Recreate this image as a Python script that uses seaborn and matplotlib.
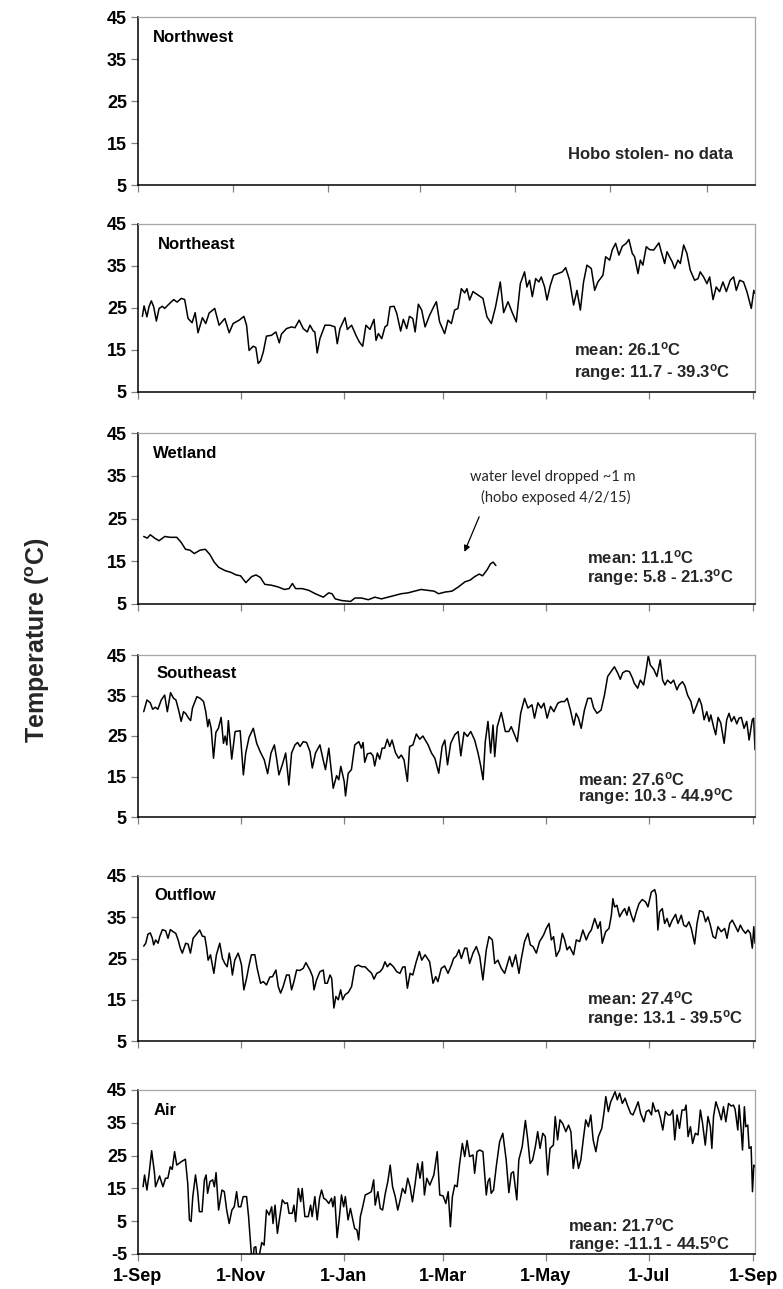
import matplotlib
matplotlib.use("Agg")
import matplotlib.pyplot as plt
import seaborn as sns
import pandas as pd

# ---------------- data ----------------
START = "2014-09-01"
tick_dates = ["2014-09-01", "2014-11-01", "2015-01-01", "2015-03-01",
              "2015-05-01", "2015-07-01", "2015-09-01"]
tick_labels = ["1-Sep", "1-Nov", "1-Jan", "1-Mar", "1-May", "1-Jul", "1-Sep"]
y_ticks_water = [5, 15, 25, 35, 45]
y_ticks_air = [-5, 5, 15, 25, 35, 45]

panel_names = ["Northwest", "Northeast", "Wetland", "Southeast", "Outflow", "Air"]
panel_means = [None, "26.1", "11.1", "27.6", "27.4", "21.7"]
panel_ranges = [None, "11.7 - 39.3", "5.8 - 21.3", "10.3 - 44.9", "13.1 - 39.5", "-11.1 - 44.5"]

ne_day = [2.6, 3.6, 5.3, 6.5, 7.9, 9.3, 10.9, 12.5, 14.5, 15.8, 18.8, 21.2, 23.2, 25.7, 27.7, 29.7,
          32.1, 33.9, 35.6, 38.2, 40.2, 42.2, 45.5, 48.1, 51.5, 54.1, 56.4, 60.0, 62.8, 64.4, 65.9,
          68.3, 69.9, 71.3, 72.7, 74.3, 76.2, 79.2, 81.8, 83.8, 85.1, 88.1, 91.1, 93.1, 95.6, 98.0,
          100.4, 102.0, 104.0, 104.9, 106.3, 107.9, 110.9, 113.9, 116.8, 118.2, 119.8, 122.8, 124.2,
          126.7, 129.3, 131.3, 133.3, 135.2, 137.6, 140.0, 141.2, 142.6, 144.6, 146.5, 147.9, 149.5,
          151.9, 153.5, 155.8, 157.4, 159.4, 161.0, 163.0, 164.4, 166.3, 168.3, 170.3,
          173.0, 175.4, 177.0, 178.9, 181.9, 183.9, 185.9, 187.8, 189.8, 191.8, 193.8, 195.1, 196.7,
          198.7, 201.7, 204.6, 207.0, 209.6, 212.1, 214.9, 216.9, 219.5, 222.0, 224.4, 226.8, 229.3,
          230.7, 232.3, 233.9, 235.9, 237.8, 239.2, 241.2, 242.6, 244.6, 246.5, 249.1, 251.7, 253.7,
          256.0, 258.4, 260.4, 262.4, 264.3, 266.3, 268.9, 270.9, 272.8, 275.8, 277.4, 279.8, 281.3,
          283.3, 285.3, 287.3, 289.6, 291.2, 293.2, 294.6, 296.6, 298.0, 299.5, 301.5, 303.5, 305.9,
          309.0, 310.4, 312.4, 313.8, 315.3, 316.9, 318.3, 320.3, 321.7, 323.7, 325.6, 327.6, 330.2,
          332.2, 333.5, 335.5, 337.5, 339.1, 341.1, 343.0, 345.0, 347.0, 349.0, 351.3, 353.3, 354.9,
          356.9, 359.2, 361.2, 363.8, 365.3, 366.0]
ne_temp = [23.0, 25.5, 22.9, 25.3, 26.7, 25.3, 21.9, 24.9, 25.4, 24.9, 26.1, 27.0, 26.4, 27.3, 27.0, 22.5,
           21.5, 23.9, 19.1, 22.7, 21.3, 23.8, 24.9, 20.9, 22.5, 19.1, 21.3, 22.1, 23.0, 20.9, 14.9,
           15.9, 15.6, 11.8, 12.4, 14.5, 18.3, 18.5, 19.3, 16.7, 18.8, 20.1, 20.5, 20.3, 22.1, 20.1,
           19.3, 20.9, 19.5, 19.3, 14.3, 17.7, 20.9, 20.9, 20.5, 16.5, 20.1, 22.7, 19.9,
           20.9, 18.5, 16.9, 15.9, 20.9, 19.9, 22.3, 17.3, 18.9, 17.7, 20.5, 20.9, 25.3,
           25.4, 23.7, 19.5, 22.3, 20.1, 23.0, 22.5, 19.3, 25.9, 24.5, 20.5,
           23.3, 25.3, 26.5, 21.7, 18.9, 22.1, 21.3, 24.5, 24.9, 29.6, 28.6, 29.6, 26.9,
           28.9, 28.1, 27.3, 22.9, 21.3, 25.3, 31.2, 23.9, 26.5, 23.9, 21.7, 30.8, 33.6,
           30.0, 31.6, 27.7, 32.0, 31.2, 32.4, 30.0, 26.9, 30.4, 32.8, 33.2, 33.6, 34.6,
           31.6, 25.7, 29.2, 24.5, 31.2, 35.2, 34.4, 29.2, 31.2, 32.8, 37.2, 36.4, 38.8,
           40.4, 37.6, 39.7, 40.4, 41.3, 38.0, 37.2, 33.2, 36.4, 35.2, 39.6, 38.9, 38.8,
           40.5, 38.4, 35.6, 38.4, 37.2, 36.0, 34.4, 36.4, 35.6, 40.0, 38.0, 34.0, 31.6,
           32.0, 33.6, 32.4, 30.8, 32.4, 27.0, 30.0, 28.9, 31.2, 28.9, 31.6, 32.4, 29.2,
           31.6, 31.2, 28.9, 24.9, 29.2, 28.5]

wl_day = [3.4, 5.5, 7.3, 9.9, 12.5, 15.9, 19.1, 23.0, 25.6, 28.2, 30.8, 33.4, 36.8, 39.9, 42.6, 45.2,
          47.8, 51.7, 55.1, 58.2, 60.8, 64.0, 67.4, 70.0, 72.6, 75.2, 79.1, 83.0, 86.9, 89.6, 91.6,
          93.5, 97.4, 101.3, 105.2, 109.9, 113.1, 115.1, 117.0, 120.9, 126.1, 128.7, 132.6, 136.6,
          140.5, 144.4, 148.3, 152.2, 156.1, 160.1, 164.0, 167.9, 171.8, 175.7, 178.3, 182.2, 186.2,
          190.1, 194.0, 197.1, 199.7, 202.4, 204.4, 207.1, 209.1, 210.7, 212.3]
wl_temp = [20.8, 20.4, 21.2, 20.4, 19.8, 20.8, 20.6, 20.6, 19.4, 17.8, 17.6, 16.8, 17.6, 17.8, 16.6, 14.8,
           13.6, 12.8, 12.4, 11.8, 11.6, 10.0, 11.4, 11.8, 11.2, 9.6, 9.4, 9.0, 8.4, 8.6, 9.8,
           8.6, 8.6, 8.2, 7.4, 6.6, 7.6, 7.4, 6.2, 5.8, 5.6, 6.4, 6.4, 6.0,
           6.6, 6.2, 6.6, 7.0, 7.4, 7.6, 8.0, 8.4, 8.2, 8.0, 7.4, 7.8, 8.0,
           9.0, 10.2, 10.6, 11.4, 12.0, 11.6, 13.0, 14.4, 14.8, 14.0]

se_day = [3.4, 5.3, 7.3, 8.7, 10.3, 11.8, 13.8, 15.8, 17.4, 19.3, 21.1, 22.5, 24.1, 25.6, 27.0, 28.4,
          30.0, 31.2, 32.3, 34.9, 36.9, 38.9, 40.2, 41.4, 42.2, 43.4, 44.8, 46.2, 47.7, 49.3, 50.7,
          51.7, 52.7, 53.6, 55.6, 57.6, 60.6, 62.5, 63.9, 65.9, 68.4, 70.4, 72.4, 74.9, 76.9, 78.9,
          80.9, 82.2, 83.6, 85.6, 87.6, 89.5, 91.1, 93.1, 94.7, 96.1, 98.0, 100.0, 102.0, 103.4,
          105.3, 107.9, 109.9, 111.2, 113.2, 115.8, 117.8, 119.1, 120.3, 122.3, 123.1, 124.7, 126.6,
          128.6, 131.0, 132.5, 133.5, 134.5, 136.1, 138.1, 139.4, 140.4, 142.0, 143.4, 144.8, 146.3,
          147.9, 149.3, 150.7, 152.7, 154.6, 156.2, 157.8, 159.8, 161.1, 163.1, 165.1, 167.1, 169.0,
          171.0,
          172.1, 174.1, 176.1, 178.4, 180.4, 182.0, 183.6, 185.5, 187.9, 189.9, 191.5, 193.4, 195.4,
          197.4, 199.7, 201.7, 203.3, 204.7, 206.0, 207.6, 209.2, 210.6, 211.6, 213.1, 215.5, 217.9,
          219.9, 221.4, 223.0, 225.0, 227.0, 229.3, 231.3, 233.7, 235.2, 237.2, 239.2, 240.8, 242.7,
          244.7, 246.7, 249.0, 251.0, 253.0, 254.6, 256.5, 258.5, 259.9, 261.3, 262.9, 264.8, 266.8,
          268.8, 270.3, 272.3, 274.7, 276.7, 278.6, 280.6, 282.6, 284.6, 286.1, 287.5, 289.5, 291.5,
          293.4, 294.4, 296.4, 298.0, 299.9, 301.3, 302.7, 303.9, 305.9, 307.8, 309.8, 311.2, 312.6,
          314.1, 316.1, 317.7, 319.7, 321.0, 323.0, 324.4, 326.0, 328.0, 329.5, 331.5, 332.9, 334.3,
          335.8, 337.4, 338.8, 339.8, 341.4, 342.7, 344.1, 345.7, 347.7, 349.2, 350.6, 352.0, 353.6,
          355.2, 356.5, 357.9, 359.5, 361.1, 362.5, 364.4, 365.2, 366.0]
se_temp = [31.0, 33.9, 33.2, 31.6, 32.1, 31.6, 33.9, 35.1, 31.0, 35.7, 34.3, 33.9, 31.4, 28.6, 31.0, 30.5,
           29.4, 28.8, 31.9, 34.7, 34.3, 33.5, 31.0, 27.3, 29.1, 26.9, 19.5, 25.9, 26.9, 29.6, 23.2,
           25.0, 22.8, 28.8, 19.3, 26.1, 26.3, 15.4, 20.8, 24.7, 26.9, 23.2, 21.2, 19.1, 15.7, 20.8,
           22.8, 19.5, 15.4, 17.9, 20.8, 12.9, 20.8, 22.8, 23.4, 22.4, 23.6, 23.4, 21.2, 17.1,
           20.8, 22.8, 19.0, 16.7, 22.0, 12.1, 15.2, 14.2, 17.5, 13.8, 10.2, 15.8, 16.7,
           22.8, 23.6, 22.0, 23.4, 18.5, 20.6, 20.8, 20.1, 17.6, 20.8, 19.3, 22.0, 22.0,
           24.2, 22.4, 24.0, 20.9, 19.5, 20.3, 19.1, 13.8, 22.4, 22.8, 25.5, 24.2, 25.0,
           23.6,
           22.8, 20.8, 19.5, 15.8, 22.4, 24.0, 17.9, 23.2, 25.3, 26.1, 20.1, 25.9, 24.9,
           26.1, 24.0, 20.8, 17.6, 14.2, 23.6, 28.6, 20.8, 27.7, 19.9, 27.3, 30.8, 26.1,
           26.1, 27.3, 25.7, 23.6, 30.6, 34.3, 31.9, 32.7, 29.4, 33.2, 31.9, 33.1, 29.4,
           32.3, 31.0, 33.1, 33.5, 33.5, 34.3, 31.4, 27.7, 30.6, 29.4, 26.9, 31.4, 34.3,
           34.3, 31.9, 30.6, 31.4, 35.1, 39.7, 40.9, 42.1, 40.5, 39.0, 40.6, 41.1, 40.9,
           39.2, 38.0, 36.8, 38.8, 37.6, 40.9, 44.9, 42.5, 41.5, 39.7, 43.8, 38.8, 37.6,
           38.8, 38.0, 38.8, 36.4, 37.6, 38.4, 37.4, 35.1, 33.5, 30.6, 32.7, 34.3, 32.7,
           29.0, 31.0, 28.6, 30.2, 27.3, 25.3, 29.6, 28.2, 23.2, 29.0, 30.6, 28.6, 29.8,
           28.0, 29.4, 29.6, 26.9, 28.6, 24.0, 29.0, 29.4, 21.6]

of_day = [3.4, 4.6, 5.9, 7.3, 8.5, 9.3, 10.5, 11.9, 12.9, 14.5, 16.4, 17.8, 19.2, 20.8, 22.4, 23.8,
          25.1, 26.3, 28.3, 29.7, 31.1, 32.7, 34.3, 36.6, 38.2, 39.6, 40.6, 41.6, 43.0, 45.0, 46.5,
          48.5, 50.1, 51.5, 52.9, 54.1, 54.9, 56.0, 57.4, 59.4, 60.4, 61.4, 62.8, 64.4, 65.9, 67.3,
          69.3, 70.7, 72.7, 74.3, 76.2, 78.2, 79.8, 81.8, 83.2, 84.6, 86.1, 88.1, 89.7, 91.1, 92.5,
          94.1, 96.0, 98.0, 99.6, 102.0, 103.6, 104.4, 105.9, 107.9, 109.9, 110.9, 112.3, 113.9,
          114.9, 116.2, 117.4, 118.8, 120.2, 121.4, 122.8, 124.8, 126.7, 128.7, 130.7, 132.7, 134.7,
          136.6, 138.6, 140.0, 141.6, 143.6, 145.1, 146.5, 147.9, 149.5, 151.5, 153.5, 155.4, 157.0,
          158.4, 159.8, 161.4, 163.0, 164.9, 166.9, 168.3, 170.3,
          173.0, 175.0, 176.6, 177.9, 179.9, 181.9, 183.9, 185.9, 187.2, 188.8, 190.4, 191.8, 193.8,
          195.1, 196.7, 198.7, 200.7, 202.7, 204.6, 206.6, 208.2, 210.2, 211.6, 213.5, 215.5, 217.5,
          218.9, 220.4, 222.0, 224.0, 226.0, 227.4, 229.3, 231.3, 232.7, 234.3, 236.3, 238.2, 240.6,
          242.2, 243.8, 245.2, 246.5, 248.1, 250.1, 251.7, 253.1, 254.5, 256.0, 258.4, 260.0, 262.0,
          263.9, 265.9, 267.5, 268.9, 270.9, 272.8, 274.2, 275.4, 277.4, 279.4, 280.8, 281.7, 282.7,
          284.1, 285.7, 287.3, 288.7, 290.0, 291.2, 292.6, 294.0, 295.6, 297.2, 299.1, 301.1, 302.5,
          304.5, 306.5, 307.4, 308.4, 309.4, 311.0, 312.4, 313.8, 315.3, 316.9, 318.9, 320.3, 322.3,
          323.7, 325.2, 326.8, 328.2, 330.2, 331.6, 333.1, 335.1, 336.7, 338.1, 339.5, 341.1, 342.6,
          344.0, 346.0, 348.0, 349.4, 351.0, 352.5, 354.5, 355.9, 357.3, 358.8, 360.4, 361.8, 363.2,
          364.4, 365.3, 366.0]
of_temp = [28.0, 28.7, 30.9, 31.2, 29.9, 28.3, 29.5, 28.7, 30.3, 32.0, 31.7, 29.9, 32.0, 31.5, 31.1, 29.5,
           27.5, 26.3, 28.7, 28.5, 26.3, 29.9, 30.7, 31.9, 30.4, 30.3, 27.9, 24.6, 25.9, 21.4, 25.9,
           28.7, 25.0, 23.8, 23.0, 26.3, 24.6, 21.0, 24.6, 26.3, 25.0, 23.4, 17.4, 20.2, 23.4, 25.9,
           25.9, 22.6, 19.0, 19.4, 18.6, 20.5, 20.6, 22.2, 18.2, 16.6, 18.2, 21.0, 21.0, 17.4, 19.4,
           22.2, 22.1, 22.6, 24.0, 22.2, 20.6, 17.4, 19.8, 21.8, 22.2, 19.0, 19.0, 21.0,
           20.2, 13.0, 15.8, 15.0, 17.4, 15.0, 16.2, 16.8, 18.2, 23.0, 23.4, 23.0, 23.0,
           22.2, 21.4, 20.0, 21.4, 21.8, 22.6, 24.2, 23.0, 23.8, 23.0, 21.8, 21.4, 22.9,
           23.0, 17.8, 21.4, 21.0, 24.0, 26.7, 24.6, 25.9,
           24.2, 19.0, 20.6, 19.4, 22.6, 23.2, 21.4, 23.4, 25.0, 25.6, 27.1, 25.0, 27.5,
           27.5, 23.8, 26.3, 27.9, 25.5, 19.8, 27.1, 30.3, 29.5, 23.8, 24.6, 22.6, 21.4,
           23.4, 25.5, 23.0, 25.9, 21.4, 25.0, 29.1, 31.1, 28.3, 27.9, 26.3, 29.1, 30.7,
           32.3, 33.5, 29.5, 30.3, 25.5, 27.1, 31.1, 29.5, 27.1, 27.9, 25.9, 29.5, 29.1,
           31.9, 29.5, 31.1, 31.9, 34.7, 32.3, 33.9, 28.7, 31.5, 32.3, 35.5, 39.5, 37.5,
           37.9, 35.1, 36.3, 37.1, 35.5, 37.5, 35.5, 33.9, 36.3, 38.3, 39.3, 38.7, 37.5,
           41.1, 41.7, 40.3, 31.9, 36.3, 37.1, 33.5, 34.7, 32.7, 34.3, 35.7, 33.5, 35.5,
           33.1, 32.7, 33.9, 32.3, 28.5, 33.5, 36.6, 36.3, 33.9, 35.1, 33.1, 30.3, 29.9,
           32.7, 31.5, 32.3, 29.9, 33.5, 34.3, 32.7, 31.5, 33.1, 31.9, 31.1, 31.9, 31.1,
           27.5, 32.7, 28.7]

air_day = [3.0, 3.9, 5.3, 6.5, 8.1, 9.8, 10.4, 12.8, 14.8, 16.3, 17.7, 19.1, 20.3, 21.7, 23.0, 25.6,
           28.1, 29.5, 30.5, 31.5, 32.5, 34.1, 35.4, 36.4, 38.0, 39.4, 40.4, 41.3, 42.7, 44.3, 45.3,
           46.3, 47.8, 49.8, 51.2, 52.6, 54.1, 55.7, 57.1, 58.5, 59.6, 61.0, 62.4, 64.4, 65.6, 66.9,
           67.9, 68.9, 69.9, 71.3, 72.2, 73.4, 74.8, 76.2, 77.8, 79.3, 80.1, 81.3, 82.7, 84.1, 85.6,
           87.2, 88.6, 89.6, 91.5, 92.5, 93.5, 95.1, 96.5, 97.4, 99.0, 101.0, 102.4, 103.3, 104.9,
           106.3, 107.7, 108.9, 110.2, 111.6, 113.2, 114.8, 115.6, 116.7, 118.1, 119.5, 120.7, 122.0,
           123.0, 124.6, 126.0, 127.0, 128.5, 129.9, 130.9, 131.9, 133.3, 134.8, 136.8, 138.4, 139.8,
           140.7, 142.3, 143.7, 145.1, 146.7, 148.2, 149.6, 151.0, 152.6, 154.1, 155.5, 156.9, 158.5,
           160.0, 161.4, 162.8, 164.4, 165.9, 167.3, 168.7, 169.9, 171.3,
           173.1, 175.5, 177.5, 179.0, 181.0, 182.6, 184.0, 185.3, 186.5, 187.9, 189.3, 190.8, 192.4,
           193.8, 195.2, 196.7, 198.7, 199.7, 201.1, 202.7, 204.6, 206.6, 207.6, 208.6, 209.5, 210.9,
           212.5, 214.5, 216.4, 218.4, 220.0, 221.4, 222.7, 224.7, 225.9, 227.9, 229.8, 231.2, 232.6,
           234.1, 235.7, 237.1, 238.5, 240.1, 241.6, 243.0, 244.4, 246.4, 247.5, 248.9, 250.3, 251.9,
           253.8, 255.4, 256.8, 258.2, 259.7, 261.3, 262.7, 264.1, 265.6, 267.2, 268.6, 270.0, 271.6,
           273.1, 275.1, 276.5, 277.5, 279.0, 280.4, 281.8, 283.0, 284.3, 285.7, 287.3, 288.9, 290.3,
           292.2, 293.6, 295.2, 296.7, 298.1, 300.1, 301.5, 303.0, 304.6, 305.4, 307.0, 308.6, 309.9,
           311.3, 312.9, 314.5, 315.8, 317.2, 318.4, 319.8, 321.2, 322.7, 324.3, 325.1, 326.3, 327.7,
           329.0, 330.6, 332.2, 333.6, 334.9, 336.5, 338.1, 339.5, 340.4, 341.4, 342.8, 344.4, 346.0,
           347.3, 348.7, 350.3, 351.9, 353.2, 354.2, 355.8, 356.6, 357.8, 358.6, 359.7, 360.5, 361.7,
           362.5, 363.7, 364.5, 365.3, 366.0]
air_temp = [15.5, 19.1, 14.5, 19.1, 26.5, 19.6, 15.5, 18.8, 15.5, 18.1, 18.1, 21.6, 20.8, 26.2, 22.1, 23.1,
            23.9, 16.5, 5.4, 4.9, 12.5, 19.1, 14.0, 7.9, 7.9, 17.6, 19.1, 13.5, 17.1, 17.6, 15.5,
            19.8, 8.4, 14.5, 14.0, 8.4, 4.3, 8.4, 9.4, 14.0, 9.4, 9.4, 12.5, 12.5, 6.4, -2.8,
            -8.5, -3.0, -2.8, -11.1, -4.8, -1.5, -2.3, 8.4, 6.9, 9.4, 4.3, 9.9, 1.3, 6.4, 11.5,
            10.4, 10.6, 7.4, 7.4, 9.9, 4.9, 15.0, 11.0, 15.0, 6.4, 6.4, 9.9, 6.4, 12.5,
            5.4, 12.0, 14.5, 12.0, 11.5, 10.4, 12.0, 9.4, 12.5, 0.0, 6.4, 13.0, 9.4,
            12.5, 5.4, 8.9, 6.4, 2.8, 2.3, -0.7, 6.4, 9.4, 13.0, 13.5, 14.0, 17.6,
            9.9, 14.0, 8.9, 8.4, 13.5, 17.1, 22.1, 15.5, 12.5, 8.4, 11.5, 15.0, 13.5,
            18.1, 15.5, 10.9, 16.5, 22.6, 18.1, 23.1, 13.0, 18.1,
            16.0, 19.1, 26.2, 13.0, 12.7, 10.4, 14.0, 3.3, 12.5, 16.0, 15.5, 22.6, 28.7,
            24.7, 29.6, 24.7, 25.2, 19.6, 26.2, 26.7, 26.2, 13.0, 17.1, 18.1, 13.5, 14.5,
            21.6, 29.2, 31.8, 23.7, 13.7, 19.6, 20.1, 11.5, 23.7, 27.7, 35.7, 29.8, 22.6,
            23.7, 27.7, 32.3, 27.2, 31.8, 30.8, 19.1, 27.2, 28.2, 36.9, 29.8, 35.9, 34.8,
            32.3, 34.3, 32.3, 21.1, 26.7, 21.1, 23.7, 29.8, 35.9, 33.8, 37.4, 29.8, 26.2,
            30.8, 33.3, 38.4, 43.0, 38.4, 41.4, 43.0, 44.5, 42.0, 44.0, 40.9, 42.5, 40.4,
            37.9, 37.4, 39.4, 41.4, 37.9, 35.3, 38.4, 38.9, 37.4, 41.1, 38.4, 38.9, 36.4,
            32.8, 38.4, 37.4, 37.4, 38.9, 29.8, 37.4, 33.3, 38.9, 38.9, 40.4, 30.8, 33.8,
            28.7, 31.8, 31.3, 38.9, 34.8, 28.2, 36.9, 33.8, 27.2, 36.9, 41.4, 38.9, 35.9,
            39.9, 35.3, 40.9, 40.1, 40.4, 39.1, 32.8, 40.4, 32.8, 26.7, 39.9, 33.8, 34.3,
            27.2, 27.7, 14.0, 22.1, 21.6]

series_days = [None, ne_day, wl_day, se_day, of_day, air_day]
series_temps = [None, ne_temp, wl_temp, se_temp, of_temp, air_temp]

# ---------------- style ----------------
sns.set_theme(style="white")
plt.rcParams["font.family"] = ["Liberation Sans", "DejaVu Sans"]
plt.rcParams["mathtext.fontset"] = "custom"
plt.rcParams["mathtext.rm"] = "Liberation Sans:bold"
plt.rcParams["mathtext.it"] = "Liberation Sans:bold"
plt.rcParams["mathtext.bf"] = "Liberation Sans:bold"

W, H = 783, 1289
fig = plt.figure(figsize=(W / 100, H / 100), dpi=100)
fig.patch.set_facecolor("white")

panel_px = [(17, 185), (224, 392), (433, 604), (655, 817), (876, 1041), (1090, 1254)]
LEFT, RIGHT = 138, 755
title_pos = [(0.024, 0.875), (0.032, 0.88), (0.025, 0.88), (0.030, 0.887), (0.027, 0.883), (0.026, 0.878)]
stats_pos = [None, (0.707, 0.256, 0.119), (0.728, 0.275, 0.155), (0.713, 0.235, 0.125),
             (0.727, 0.26, 0.138), (0.697, 0.177, 0.055)]

start = pd.Timestamp(START)
tdates = pd.to_datetime(tick_dates)
FS_TICK = 13
FS_TXT = 12
TICK_GRAY = "#808080"

for i, name in enumerate(panel_names):
    top, bot = panel_px[i]
    ax = fig.add_axes([LEFT / W, 1 - bot / H, (RIGHT - LEFT) / W, (bot - top) / H])
    ax.set_facecolor("white")
    if series_days[i] is not None:
        df = pd.DataFrame({
            "date": start + pd.to_timedelta(series_days[i], unit="D"),
            "temp": series_temps[i],
        })
        sns.lineplot(data=df, x="date", y="temp", ax=ax, color="black",
                     linewidth=1.1, estimator=None, sort=False)
    if name == "Northwest":
        ax.set_xlim(start, start + pd.Timedelta(days=396))
    else:
        ax.set_xlim(start, start + pd.Timedelta(days=366))
    ax.set_xticks(tdates)
    if name == "Air":
        ax.set_ylim(-5, 45)
        ax.set_yticks(y_ticks_air)
        ax.set_xticklabels(tick_labels, fontsize=FS_TICK, fontweight="bold")
    else:
        ax.set_ylim(5, 45)
        ax.set_yticks(y_ticks_water)
        ax.set_xticklabels([])
    ax.set_yticklabels([str(v) for v in ax.get_yticks().astype(int)], fontsize=FS_TICK, fontweight="bold")
    ax.set_xlabel("")
    ax.set_ylabel("")
    ax.tick_params(axis="both", which="both", direction="out", length=5, width=0.9,
                   color=TICK_GRAY, pad=3, left=True, bottom=True, labelcolor="black")
    ax.tick_params(axis="x", pad=5)
    for s in ("left", "bottom"):
        ax.spines[s].set_color("black")
        ax.spines[s].set_linewidth(1.1)
    for s in ("top", "right"):
        ax.spines[s].set_color("#a6a6a6")
        ax.spines[s].set_linewidth(0.9)
    ax.grid(False)

    tx, ty = title_pos[i]
    ax.text(tx, ty, name, transform=ax.transAxes, fontsize=FS_TXT, fontweight="bold",
            ha="left", va="center", color="black")
    if panel_means[i] is not None:
        sx, sy1, sy2 = stats_pos[i]
        ax.text(sx, sy1, "mean: " + panel_means[i] + r"$^{\mathrm{o}}$C", transform=ax.transAxes,
                fontsize=FS_TXT, fontweight="bold", ha="left", va="center")
        ax.text(sx, sy2, "range: " + panel_ranges[i] + r"$^{\mathrm{o}}$C", transform=ax.transAxes,
                fontsize=FS_TXT, fontweight="bold", ha="left", va="center")
    if name == "Northwest":
        ax.text(0.964, 0.18, "Hobo stolen- no data", transform=ax.transAxes, fontsize=FS_TXT,
                fontweight="bold", ha="right", va="center")
    if name == "Wetland":
        ax.text(start + pd.Timedelta(days=246), 34.8, "water level dropped ~1 m",
                fontsize=10.5, family=["Lato", "DejaVu Sans"], ha="center", va="center")
        ax.text(start + pd.Timedelta(days=248), 30.0, "(hobo exposed 4/2/15)",
                fontsize=10.5, family=["Lato", "DejaVu Sans"], ha="center", va="center")
        ax.annotate("", xy=(start + pd.Timedelta(days=193), 16.6),
                    xytext=(start + pd.Timedelta(days=203), 26.0),
                    arrowprops=dict(arrowstyle="-|>", color="black", lw=0.9, mutation_scale=9))

fig.text(38 / W, 1 - 640 / H, r"Temperature ($^{\mathrm{o}}$C)", rotation=90, fontsize=18,
         fontweight="bold", ha="center", va="center")

fig.savefig("out.png", dpi=100, facecolor="white")
